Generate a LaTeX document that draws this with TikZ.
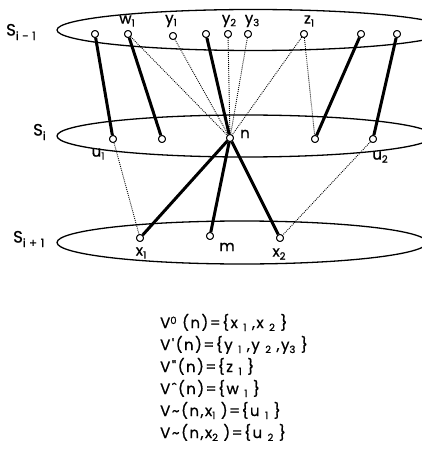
\documentclass[tikz,border=0pt]{standalone}
\usepackage{fontspec}
\setmainfont{Poppins}
\newfontfamily\labfont[LetterSpace=4,FakeBold=0.8]{Poppins}
\newfontfamily\txtfont[LetterSpace=10,FakeBold=0.8]{Poppins}
\newcommand{\dn}[1]{\raisebox{-3pt}{\fontsize{10}{10}\selectfont #1}}
\newcommand{\ldn}[1]{\raisebox{-4.5pt}{\fontsize{11.5}{11.5}\selectfont #1}}
\newcommand{\upr}[1]{\raisebox{4pt}{\fontsize{10}{10}\selectfont #1}}
\begin{document}
\begin{tikzpicture}[x=1pt,y=-1pt,
  vtx/.style={circle,draw,fill=white,inner sep=0pt,minimum size=7pt,line width=0.9pt},
  heavy/.style={line width=3pt},
  dots/.style={line width=0.9pt,dash pattern=on 0.9pt off 1.1pt},
  ring/.style={line width=1.3pt},
  lab/.style={inner sep=0pt,font=\labfont\fontsize{15}{15}\selectfont},
  slab/.style={inner sep=0pt,anchor=west,font=\labfont\fontsize{16.5}{16.5}\selectfont},
  txt/.style={inner sep=0pt,anchor=base west,font=\txtfont\fontsize{15}{15}\selectfont}]
\useasboundingbox (0,0) rectangle (422,449);
% layers
\draw[ring] (253,30) ellipse (196 and 20.5);
\draw[ring] (245,136) ellipse (188 and 21);
\draw[ring] (242,242.5) ellipse (185 and 21.5);
\node[slab] (s1) at (6,32) {S\ldn{i - 1}};
\node[slab] (s2) at (33,132) {S\ldn{i}};
\node[slab] (s3) at (13,239) {S\ldn{i + 1}};
% vertices
\node[vtx] (a1) at (95,34) {};
\node[vtx] (w1) at (128,34) {};
\node[vtx] (y1) at (173,36) {};
\node[vtx] (a4) at (206,34) {};
\node[vtx] (y2) at (228,34) {};
\node[vtx] (y3) at (248,34) {};
\node[vtx] (z1) at (304,34) {};
\node[vtx] (a8) at (361,34) {};
\node[vtx] (a9) at (397,34) {};
\node[vtx] (u1) at (113,139) {};
\node[vtx] (b2) at (162,139) {};
\node[vtx] (n) at (230,138) {};
\node[vtx] (b4) at (315,139) {};
\node[vtx] (u2) at (373,139) {};
\node[vtx] (x1) at (140,238) {};
\node[vtx] (m) at (210,236) {};
\node[vtx] (x2) at (280,238) {};
% edges
\draw[dots] (w1) -- (n);
\draw[dots] (y1) -- (n);
\draw[dots] (y2) -- (n);
\draw[dots] (y3) -- (n);
\draw[dots] (z1) -- (n);
\draw[dots] (z1) -- (b4);
\draw[dots] (u1) -- (x1);
\draw[dots] (u2) -- (x2);
\draw[heavy] (a1) -- (u1);
\draw[heavy] (w1) -- (b2);
\draw[heavy] (a4) -- (n);
\draw[heavy] (a8) -- (b4);
\draw[heavy] (a9) -- (u2);
\draw[heavy] (n) -- (x1);
\draw[heavy] (n) -- (m);
\draw[heavy] (n) -- (x2);
% redraw vertices on top
\foreach \v in {a1,w1,y1,a4,y2,y3,z1,a8,a9,u1,b2,n,b4,u2,x1,m,x2}
  \draw[line width=0.9pt,fill=white] (\v.center) circle (3.5pt);
% labels
\node[lab] (lw1) at (127,21) {w\dn{1}};
\node[lab] (ly1) at (171,21) {y\dn{1}};
\node[lab] (ly2) at (229,21) {y\dn{2}};
\node[lab] (ly3) at (252,21) {y\dn{3}};
\node[lab] (lz1) at (309,21) {z\dn{1}};
\node[lab] (lu1) at (98,154) {u\dn{1}};
\node[lab] (ln) at (245,134) {n};
\node[lab] (lu2) at (380,157) {u\dn{2}};
\node[lab] (lx1) at (141,253) {x\dn{1}};
\node[lab] (lm) at (227,247) {m};
\node[lab] (lx2) at (279,254) {x\dn{2}};
% definitions
\node[txt] (t1) at (160,328) {V\upr{0} (n)=\{x \dn{1} ,x \dn{2} \}};
\node[txt] (t2) at (160,350) {V\symbol{39}(n)=\{y \dn{1} ,y \dn{2} ,y\dn{3} \}};
\node[txt] (t3) at (160,372) {V\symbol{34}(n)=\{z \dn{1} \}};
\node[txt] (t4) at (160,394) {Vˆ(n)=\{w \dn{1} \}};
\node[txt] (t5) at (160,416) {V\textasciitilde(n,x\dn{1} )=\{u \dn{1} \}};
\node[txt] (t6) at (160,438) {V\textasciitilde(n,x\dn{2} )=\{u \dn{2} \}};
\end{tikzpicture}
\end{document}
